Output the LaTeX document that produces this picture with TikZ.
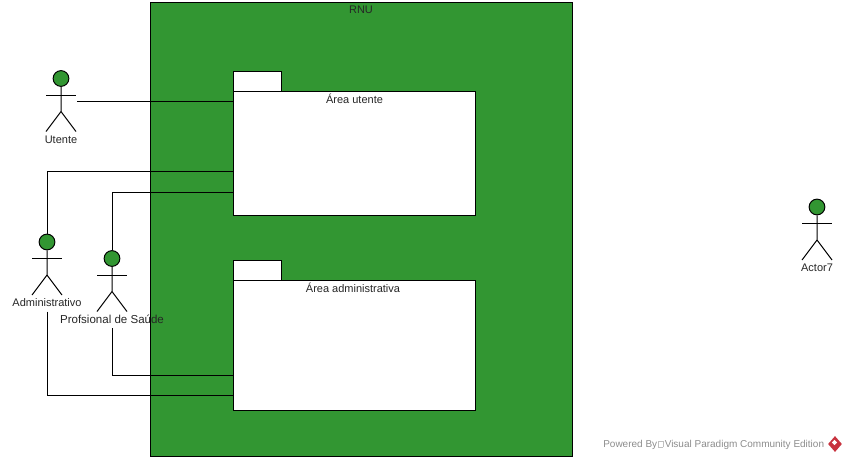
\documentclass[tikz,border=0pt]{standalone}
\usepackage{fontspec}
\setmainfont{Liberation Sans}
\usepackage{tikz}
\usetikzlibrary{positioning,shapes.geometric}

\definecolor{sysgreen}{HTML}{329632}
\definecolor{logored}{HTML}{C8333F}
\definecolor{marktext}{HTML}{8C8C8C}

\newcommand{\missingglyph}{\hspace{.9pt}{\fboxsep=0pt\fboxrule=.3pt\textcolor{black!25}{\fbox{\phantom{\rule{3pt}{4.6pt}}}}}\hspace{1.2pt}}

\tikzset{
	label text/.style={font=\fontsize{8.25}{10}\selectfont,text=black!85,inner sep=0pt,outer sep=2.2pt,text height=6.2pt,text depth=1.7pt},
	system box/.style={rectangle,draw=black,fill=sysgreen,line width=.75pt,outer sep=0pt,minimum width=316.5pt,minimum height=340.5pt,inner sep=0pt,anchor=north west},
	package body/.style={rectangle,draw=black,fill=white,line width=.75pt,outer sep=0pt,minimum width=181.5pt,inner sep=0pt,anchor=north west},
	package tab/.style={rectangle,draw=black,fill=white,line width=.75pt,outer sep=0pt,minimum width=36pt,minimum height=15pt,inner sep=0pt,anchor=south west},
	actor head/.style={circle,draw=black,fill=sysgreen,line width=.75pt,minimum size=11.8pt,inner sep=0pt},
	wire/.style={line width=.75pt,draw=black},
	actor/.pic={
		\node[actor head] (-head) at (0,0) {};
		\draw[wire] (-head.south) -- (0,33) -- (-15,53) (0,33) -- (15,53);
		\draw[wire] (-15,16.5) -- (15,16.5);
		\coordinate (-hand) at (16,22.5);
		\node[label text] (-label) at (0,61.5) {#1};
	}
}

\begin{document}
\begin{tikzpicture}[x=.75pt,y=-.75pt]
	\useasboundingbox (0,0) rectangle (847,461);

	\node[system box] (rnu) at (150.5,2) {};
	\node[label text] (rnutitle) at (361,10.5) {RNU};

	% packages
	\node[package body,minimum height=93pt] (utente) at (233.5,91) {};
	\node[package tab] (utentetab) at (utente.north west) {};
	\node[label text] (utentetitle) at (354.5,100) {Área utente};

	\node[package body,minimum height=97.5pt] (admin) at (233.5,280) {};
	\node[package tab] (admintab) at (admin.north west) {};
	\node[label text] (admintitle) at (353,289) {Área administrativa};

	% actors
	\pic (ut) at (61,78.5) {actor={Utente}};
	\pic (adm) at (47,242) {actor={Administrativo}};
	\pic (sau) at (112,258.5) {actor={\fontsize{8.65}{10}\selectfont Profsional de Saúde}};
	\pic (act) at (817,207) {actor={Actor7}};

	% ends on the package borders
	\coordinate (utadm) at (233.5,171.5);
	\coordinate (utsau) at (233.5,192.5);
	\coordinate (adsau) at (233.5,375.5);
	\coordinate (adadm) at (233.5,395.5);

	\draw[wire] (ut-hand) -- (ut-hand -| utente.west);
	\draw[wire] (adm-head.north) |- (utadm);
	\draw[wire] (sau-head.north) |- (utsau);
	\draw[wire] (sau-label.south) |- (adsau);
	\draw[wire] (adm-label.south) |- (adadm);

	% watermark
	\node[font=\fontsize{7.5}{9}\selectfont,text=marktext,inner sep=0pt,anchor=west] (mark) at (603,444.5) {Powered By\missingglyph Visual Paradigm Community Edition};
	\node[diamond,fill=logored,minimum width=10.5pt,minimum height=12pt,aspect=.875,inner sep=0pt] (logo) at (835,444) {};
	\node[diamond,fill=white,minimum size=4pt,inner sep=0pt] (logomark) at (834.5,442.5) {};
\end{tikzpicture}
\end{document}
